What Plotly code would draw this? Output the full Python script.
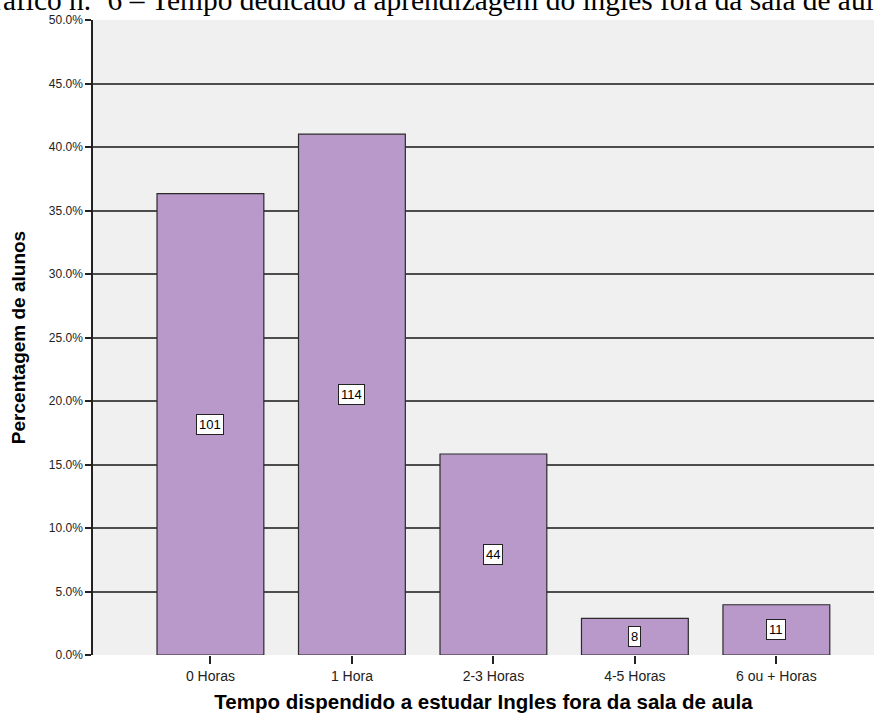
import plotly.graph_objects as go

# Study time outside the classroom: number of students per category
categories = ["0 Horas", "1 Hora", "2-3 Horas", "4-5 Horas", "6 ou + Horas"]
counts = [101, 114, 44, 8, 11]
y_ticks = [0, 5, 10, 15, 20, 25, 30, 35, 40, 45, 50]

total = sum(counts)
percent = [c / total * 100 for c in counts]

BAR_COLOR = "#b899c9"
GRID = "#4d4d4d"
BG = "#f0f0f0"
SANS = "Liberation Sans, Arial, sans-serif"

fig = go.Figure()
fig.add_trace(go.Bar(
    x=categories,
    y=percent,
    width=0.755,
    marker=dict(color=BAR_COLOR, line=dict(color="#2b2b2b", width=1.2)),
    hoverinfo="skip",
))

# count labels in white boxes at mid-height of each bar
for cat, p, c in zip(categories, percent, counts):
    fig.add_annotation(
        x=cat, y=p / 2, text=str(c), showarrow=False,
        font=dict(family=SANS, size=13, color="black"),
        bgcolor="white", bordercolor="#222", borderwidth=1, borderpad=2,
    )

# document caption line above the chart
fig.add_annotation(
    xref="paper", yref="paper", x=-0.158, y=1.0315,
    xanchor="left", yanchor="middle", showarrow=False,
    text="Gráfico n.º 6 – Tempo dedicado à aprendizagem do inglês fora da sala de aula",
    font=dict(family="Liberation Serif, Times New Roman, serif", size=29.4, color="black"),
)

fig.update_layout(
    width=874, height=720,
    margin=dict(l=93, r=0, t=20, b=65),
    paper_bgcolor="white",
    plot_bgcolor=BG,
    showlegend=False,
    xaxis=dict(
        type="category",
        range=[-0.83, 4.69],
        showgrid=False, zeroline=False,
        showline=False,
        ticks="outside", ticklen=8, tickwidth=1.5, tickcolor="#222",
        tickfont=dict(family=SANS, size=14, color="#222"),
        title=dict(text="<b>Tempo dispendido a estudar Ingles fora da sala de aula</b>",
                   font=dict(family=SANS, size=20.5, color="black"), standoff=11),
    ),
    yaxis=dict(
        range=[0, 50],
        tickvals=y_ticks,
        ticktext=[f"{v:.1f}%" for v in y_ticks],
        showgrid=True, gridcolor=GRID, gridwidth=1.6,
        zeroline=False,
        showline=True, linecolor="#222", linewidth=1.5,
        ticks="outside", ticklen=6, tickwidth=1.5, tickcolor="#222",
        tickfont=dict(family=SANS, size=12, color="#222"),
        title=dict(text="<b>Percentagem de alunos</b>",
                   font=dict(family=SANS, size=19, color="black"), standoff=18),
    ),
    bargap=0.25,
)

fig.write_html("out.html")
